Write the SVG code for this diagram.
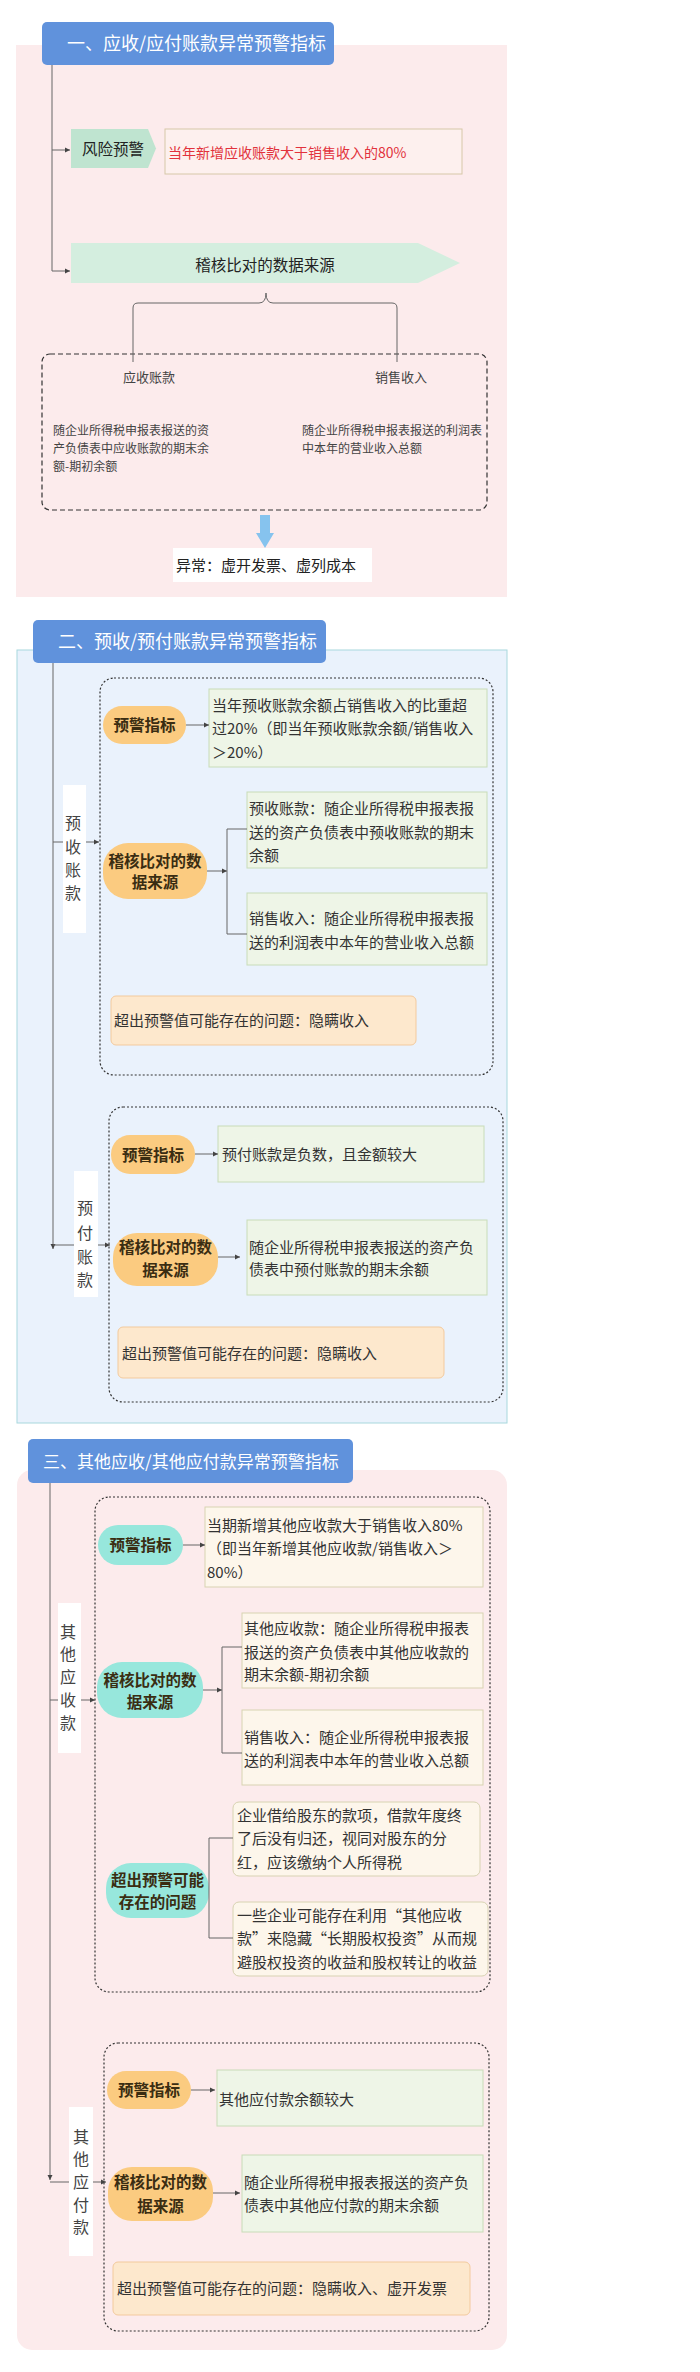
<svg xmlns="http://www.w3.org/2000/svg" width="700" height="2372" viewBox="0 0 700 2372">
<defs>
<style>
text{font-family:"Noto Sans CJK SC","Noto Sans",sans-serif;fill:#333}
.title{font-size:18px;fill:#fff}
.t15{font-size:15px}
.t12{font-size:12px;fill:#444}
.pill{font-size:15.5px;font-weight:bold;fill:#3a2d12;text-anchor:middle}
.vl{font-size:16px;fill:#444;text-anchor:middle}
.tbar{fill:#6092DC}
.gbox{fill:#EEF5E7;stroke:#C8DCB8;stroke-width:1}
.cbox{fill:#FDF6EB;stroke:#D8D3B2;stroke-width:1}
.obox{fill:#FDE8CD;stroke:#F3CA9D;stroke-width:1}
.opill{fill:#FBCB80}
.tpill{fill:#97E7DC}
.dot{fill:none;stroke:#333;stroke-width:1.2;stroke-dasharray:2 2}
.lab{fill:#fff}
.ln{fill:none;stroke:#666;stroke-width:1}
</style>
<marker id="ah" markerWidth="6" markerHeight="6" refX="5" refY="3" orient="auto" markerUnits="userSpaceOnUse"><path d="M0,0.5 L5,3 L0,5.5 z" fill="#444"/></marker>
</defs>
<rect width="700" height="2372" fill="#fff"/>

<!-- Section 1 -->
<g id="sec1-bg"><rect x="16" y="45" width="491" height="552" fill="#FCEBEC"/></g>
<g id="sec1-title"><rect class="tbar" x="42" y="22" width="292" height="43" rx="5"/><text class="title" x="67" y="50">一、应收/应付账款异常预警指标</text></g>
<g id="risk"><polygon points="71,129 148,129 156,148.5 148,168 71,168" fill="#BFE4D0"/><text x="82" y="154.5" style="font-size:15.5px;fill:#222">风险预警</text></g>
<g id="risk-text"><rect x="165" y="129" width="297" height="45" fill="#FDF0EE" stroke="#D6C8A8"/><text x="168" y="157.5" style="font-size:14px;fill:#E2323C">当年新增应收账款大于销售收入的80%</text></g>
<g id="source1"><polygon points="71,243 418,243 460,263 418,283 71,283" fill="#D4EEDF"/><text x="265" y="270.5" text-anchor="middle" style="font-size:15.5px;fill:#222">稽核比对的数据来源</text></g>
<g id="source1-detail">
<rect x="42" y="354" width="445" height="156" rx="8" fill="none" stroke="#333" stroke-width="1.2" stroke-dasharray="5 3"/>
<text x="123" y="382" style="font-size:13px;fill:#444">应收账款</text>
<text x="375" y="382" style="font-size:13px;fill:#444">销售收入</text>
<text class="t12" x="53" y="434.5">随企业所得税申报表报送的资</text>
<text class="t12" x="53" y="452.5">产负债表中应收账款的期末余</text>
<text class="t12" x="53" y="471">额-期初余额</text>
<text class="t12" x="302" y="434.5">随企业所得税申报表报送的利润表</text>
<text class="t12" x="302" y="452.5">中本年的营业收入总额</text>
</g>
<g id="abnormal1"><rect x="173" y="548" width="199" height="34" fill="#fff"/><text class="t15" x="176" y="571" style="fill:#222">异常：虚开发票、虚列成本</text></g>

<!-- Section 2 -->
<g id="sec2-bg"><rect x="17" y="650" width="490" height="773" fill="#EAF2FC" stroke="#A8D8DD"/></g>
<g id="sec2-title"><rect class="tbar" x="33" y="620" width="293" height="43" rx="5"/><text class="title" x="58" y="648">二、预收/预付账款异常预警指标</text></g>
<g id="lab-yushou"><rect class="lab" x="63" y="785" width="23" height="148"/>
<text class="vl" x="73" y="829">预</text><text class="vl" x="73" y="853">收</text><text class="vl" x="73" y="876">账</text><text class="vl" x="73" y="899">款</text></g>
<g id="grp-yushou"><rect class="dot" x="100" y="678" width="393" height="397" rx="14"/></g>
<g id="p2a"><rect class="opill" x="103" y="706" width="83" height="38" rx="19"/><text class="pill" x="144.5" y="731">预警指标</text></g>
<g id="b2a"><rect class="gbox" x="209" y="689" width="278" height="78"/>
<text class="t15" x="212" y="710.5">当年预收账款余额占销售收入的比重超</text>
<text class="t15" x="212" y="733.5">过20%（即当年预收账款余额/销售收入</text>
<text class="t15" x="212" y="757.5">＞20%）</text></g>
<g id="p2b"><rect class="opill" x="103" y="843" width="104" height="56" rx="25"/><text class="pill" x="155" y="866.5">稽核比对的数</text><text class="pill" x="155" y="888">据来源</text></g>
<g id="b2b"><rect class="gbox" x="247" y="792" width="240" height="76"/>
<text class="t15" x="249" y="813.5">预收账款：随企业所得税申报表报</text>
<text class="t15" x="249" y="837.5">送的资产负债表中预收账款的期末</text>
<text class="t15" x="249" y="860.5">余额</text></g>
<g id="b2c"><rect class="gbox" x="247" y="893" width="240" height="72"/>
<text class="t15" x="249" y="923.5">销售收入：随企业所得税申报表报</text>
<text class="t15" x="249" y="947.5">送的利润表中本年的营业收入总额</text></g>
<g id="b2d"><rect class="obox" x="111" y="996" width="305" height="49" rx="5"/><text class="t15" x="114" y="1025.5">超出预警值可能存在的问题：隐瞒收入</text></g>

<g id="lab-yufu"><rect class="lab" x="74" y="1171" width="24" height="126"/>
<text class="vl" x="85" y="1214">预</text><text class="vl" x="85" y="1239">付</text><text class="vl" x="85" y="1263">账</text><text class="vl" x="85" y="1286">款</text></g>
<g id="grp-yufu"><rect class="dot" x="109" y="1107" width="394" height="295" rx="14"/></g>
<g id="p2e"><rect class="opill" x="111" y="1135" width="84" height="39" rx="19"/><text class="pill" x="153" y="1160.5">预警指标</text></g>
<g id="b2e"><rect class="gbox" x="218" y="1126" width="266" height="56"/><text class="t15" x="222" y="1159.5">预付账款是负数，且金额较大</text></g>
<g id="p2f"><rect class="opill" x="113" y="1233" width="105" height="53" rx="24"/><text class="pill" x="165.5" y="1252.5">稽核比对的数</text><text class="pill" x="165.5" y="1275.5">据来源</text></g>
<g id="b2f"><rect class="gbox" x="247" y="1220" width="240" height="75"/>
<text class="t15" x="249" y="1252.5">随企业所得税申报表报送的资产负</text>
<text class="t15" x="249" y="1274.5">债表中预付账款的期末余额</text></g>
<g id="b2g"><rect class="obox" x="118" y="1327" width="326" height="51" rx="5"/><text class="t15" x="122" y="1358.5">超出预警值可能存在的问题：隐瞒收入</text></g>

<!-- Section 3 -->
<g id="sec3-bg"><rect x="17" y="1470" width="490" height="880" rx="15" fill="#FCEBEC"/></g>
<g id="sec3-title"><rect class="tbar" x="28" y="1439" width="325" height="44" rx="5"/><text class="title" x="43" y="1467.5" style="font-size:17px">三、其他应收/其他应付款异常预警指标</text></g>
<g id="lab-qtys"><rect class="lab" x="58" y="1603" width="23" height="150"/>
<text class="vl" x="68" y="1638">其</text><text class="vl" x="68" y="1660">他</text><text class="vl" x="68" y="1683">应</text><text class="vl" x="68" y="1706">收</text><text class="vl" x="68" y="1729">款</text></g>
<g id="grp-qtys"><rect class="dot" x="95" y="1497" width="395" height="495" rx="14"/></g>
<g id="p3a"><rect class="tpill" x="98" y="1525" width="85" height="40" rx="20"/><text class="pill" x="140.5" y="1551">预警指标</text></g>
<g id="b3a"><rect class="cbox" x="205" y="1507" width="278" height="80"/>
<text class="t15" x="207" y="1530.5">当期新增其他应收款大于销售收入80%</text>
<text class="t15" x="207" y="1553.5">（即当年新增其他应收款/销售收入＞</text>
<text class="t15" x="207" y="1577.5">80%）</text></g>
<g id="p3b"><rect class="tpill" x="97" y="1662" width="106" height="56" rx="25"/><text class="pill" x="150" y="1686">稽核比对的数</text><text class="pill" x="150" y="1708">据来源</text></g>
<g id="b3b"><rect class="cbox" x="242" y="1613" width="241" height="75"/>
<text class="t15" x="244" y="1633.5">其他应收款：随企业所得税申报表</text>
<text class="t15" x="244" y="1657.5">报送的资产负债表中其他应收款的</text>
<text class="t15" x="244" y="1679.5">期末余额-期初余额</text></g>
<g id="b3c"><rect class="cbox" x="242" y="1710" width="241" height="75"/>
<text class="t15" x="244" y="1742.5">销售收入：随企业所得税申报表报</text>
<text class="t15" x="244" y="1765.5">送的利润表中本年的营业收入总额</text></g>
<g id="p3c"><rect class="tpill" x="106" y="1863" width="103" height="55" rx="25"/><text class="pill" x="157.5" y="1886">超出预警可能</text><text class="pill" x="157.5" y="1908">存在的问题</text></g>
<g id="b3d"><rect class="cbox" x="233" y="1802" width="247" height="74" rx="6"/>
<text class="t15" x="237" y="1820.5">企业借给股东的款项，借款年度终</text>
<text class="t15" x="237" y="1843.5">了后没有归还，视同对股东的分</text>
<text class="t15" x="237" y="1867.5">红，应该缴纳个人所得税</text></g>
<g id="b3e"><rect class="cbox" x="233" y="1902" width="255" height="74" rx="6"/>
<text class="t15" x="237" y="1920.5">一些企业可能存在利用“其他应收</text>
<text class="t15" x="237" y="1943.5">款”来隐藏“长期股权投资”从而规</text>
<text class="t15" x="237" y="1967.5">避股权投资的收益和股权转让的收益</text></g>

<g id="lab-qtyf"><rect class="lab" x="69" y="2107" width="24" height="149"/>
<text class="vl" x="81" y="2143">其</text><text class="vl" x="81" y="2165">他</text><text class="vl" x="81" y="2188">应</text><text class="vl" x="81" y="2211">付</text><text class="vl" x="81" y="2233">款</text></g>
<g id="grp-qtyf"><rect class="dot" x="104" y="2043" width="385" height="288" rx="14"/></g>
<g id="p3f"><rect class="opill" x="107" y="2071" width="84" height="38" rx="19"/><text class="pill" x="149" y="2096">预警指标</text></g>
<g id="b3f"><rect class="gbox" x="217" y="2070" width="266" height="56"/><text class="t15" x="219" y="2104.5">其他应付款余额较大</text></g>
<g id="p3g"><rect class="opill" x="108" y="2167" width="105" height="54" rx="24"/><text class="pill" x="160.5" y="2188">稽核比对的数</text><text class="pill" x="160.5" y="2212">据来源</text></g>
<g id="b3g"><rect class="gbox" x="242" y="2155" width="241" height="77"/>
<text class="t15" x="244" y="2187.5">随企业所得税申报表报送的资产负</text>
<text class="t15" x="244" y="2210.5">债表中其他应付款的期末余额</text></g>
<g id="b3h"><rect class="obox" x="113" y="2262" width="357" height="53" rx="5"/><text class="t15" x="117" y="2293.5">超出预警值可能存在的问题：隐瞒收入、虚开发票</text></g>

<!-- Connectors -->
<g id="connectors">
<path class="ln" d="M52,65 V271 H70" marker-end="url(#ah)"/>
<path class="ln" d="M52,150 H70" marker-end="url(#ah)"/>
<path class="ln" d="M133,362 V308 Q133,303 138,303 H259 Q266,303 266,293 Q266,303 273,303 H392 Q397,303 397,308 V362"/>
<polygon points="260,515 270,515 270,533 274,533 265,548 256,533 260,533" fill="#86C3EE"/>

<path class="ln" d="M53,663 V1249" marker-end="url(#ah)"/>
<path class="ln" d="M53,842 H63"/>
<path class="ln" d="M86,842 H99" marker-end="url(#ah)"/>
<path class="ln" d="M186,725 H209" marker-end="url(#ah)"/>
<path class="ln" d="M207,871 H227" marker-end="url(#ah)"/>
<path class="ln" d="M247,829 H227 V934 H247"/>
<path class="ln" d="M53,1245 H74"/>
<path class="ln" d="M98,1245 H110" marker-end="url(#ah)"/>
<path class="ln" d="M195,1154 H218" marker-end="url(#ah)"/>
<path class="ln" d="M218,1257 H240" marker-end="url(#ah)"/>

<path class="ln" d="M50,1483 V2180" marker-end="url(#ah)"/>
<path class="ln" d="M50,1700 H58"/>
<path class="ln" d="M81,1700 H95" marker-end="url(#ah)"/>
<path class="ln" d="M183,1545 H205" marker-end="url(#ah)"/>
<path class="ln" d="M203,1690 H222" marker-end="url(#ah)"/>
<path class="ln" d="M242,1647 H222 V1753 H242"/>
<path class="ln" d="M233,1838 H209 V1938 H233"/>
<path class="ln" d="M50,2182 H69"/>
<path class="ln" d="M93,2182 H106" marker-end="url(#ah)"/>
<path class="ln" d="M191,2090 H215" marker-end="url(#ah)"/>
<path class="ln" d="M213,2193 H240" marker-end="url(#ah)"/>
</g>
</svg>
